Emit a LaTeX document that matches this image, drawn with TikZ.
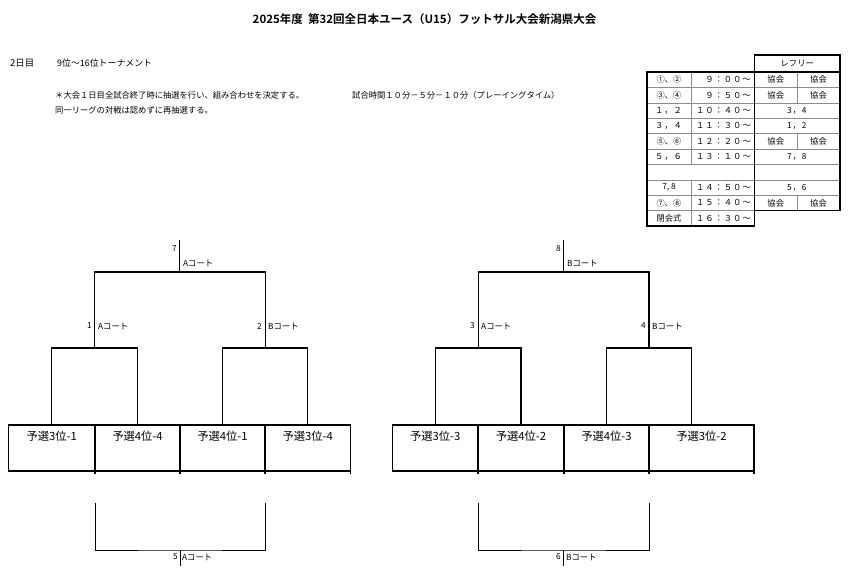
\documentclass[tikz,border=0pt]{standalone}
\usepackage{fontspec}
\setmainfont{Noto Sans CJK JP}[BoldFont={Noto Sans CJK JP Bold}]
\def\spaced#1{\spacedaux#1\relax}
\def\spacedaux#1{\ifx\relax#1\else#1\kern1pt\expandafter\spacedaux\fi}
\begin{document}
\begin{tikzpicture}[x=1pt,y=-1pt,
  txt/.style={inner sep=0pt, font=\fontsize{8.3}{10}\selectfont},
  tabtxt/.style={inner sep=0pt, font=\fontsize{8.3}{10}\selectfont},
  smalltxt/.style={inner sep=0pt, font=\fontsize{8.2}{9}\selectfont},
  boxlbl/.style={inner sep=0pt, font=\fontsize{11.3}{13}\selectfont},
  brk/.style={line width=1.1pt, black},
  cell/.style={draw, line width=1.6pt, minimum height=46pt, inner sep=0pt, outer sep=0pt, anchor=north west},
  tthick/.style={line width=1.6pt, line cap=rect},
  tthin/.style={line width=0.5pt, black!45},
  tick/.style={line width=1.3pt}]
\useasboundingbox[fill=white] (0,0) rectangle (849,568);

% ---------- header texts ----------
\node[inner sep=0pt, font=\fontsize{11.5}{13}\selectfont\bfseries] (title) at (424.5,19) {2025年度\ \ 第32回全日本ユース（U15）フットサル大会新潟県大会};
\node[txt, anchor=west, font=\fontsize{9.4}{11}\selectfont] (day) at (10,63) {2日目};
\node[txt, anchor=west, font=\fontsize{8.9}{10}\selectfont] (rank) at (57,63) {9位～16位トーナメント};
\node[txt, anchor=west] (note1) at (55,95) {＊大会１日目全試合終了時に抽選を行い、組み合わせを決定する。};
\node[txt, anchor=west] (note2) at (352,95) {試合時間１０分－５分－１０分（プレーイングタイム）};
\node[txt, anchor=west] (note3) at (55,110) {同一リーグの対戦は認めずに再抽選する。};

% ---------- schedule table ----------
\foreach \yy in {87.4,102.8,118.2,133.6,149,164.4,179.8,195.2}
  \draw[tthin] (647,\yy) -- (840,\yy);
\draw[tthin] (647,210.6) -- (754.5,210.6);
\draw[tthin] (691,72) -- (691,164.4);
\draw[tthin] (691,179.8) -- (691,226);
\draw[tthin] (797,72) -- (797,102.8);
\draw[tthin] (797,133.6) -- (797,149);
\draw[tthin] (797,195.2) -- (797,210.6);
\draw[tthick] (754.5,55) -- (840,55);
\draw[tthick] (647,72) -- (840,72);
\draw[tthick] (647,72) -- (647,226) -- (754.5,226);
\draw[tthick] (754.5,55) -- (754.5,226);
\draw[tthick] (840,55) -- (840,210.6) -- (754.5,210.6);

\node[tabtxt] (ref) at (797.25,63.5) {レフリー};

\node[smalltxt] (n1) at (669,79.7) {①、②};
\node[smalltxt] (n2) at (669,95.1) {③、④};
\node[tabtxt] (n3) at (669,110.5) {\spaced{１，２}};
\node[tabtxt] (n4) at (669,125.9) {\spaced{３，４}};
\node[smalltxt] (n5) at (669,141.3) {⑤、⑥};
\node[tabtxt] (n6) at (669,156.7) {\spaced{５，６}};
\node[tabtxt] (n8) at (669,187.5) {7, 8};
\node[smalltxt] (n9) at (669,202.9) {⑦、⑧};
\node[smalltxt] (n10) at (669,218.3) {閉会式};

\node[tabtxt, anchor=east] (h1) at (752,79.7) {\spaced{９：００～}};
\node[tabtxt, anchor=east] (h2) at (752,95.1) {\spaced{９：５０～}};
\node[tabtxt, anchor=east] (h3) at (752,110.5) {\spaced{１０：４０～}};
\node[tabtxt, anchor=east] (h4) at (752,125.9) {\spaced{１１：３０～}};
\node[tabtxt, anchor=east] (h5) at (752,141.3) {\spaced{１２：２０～}};
\node[tabtxt, anchor=east] (h6) at (752,156.7) {\spaced{１３：１０～}};
\node[tabtxt, anchor=east] (h8) at (752,187.5) {\spaced{１４：５０～}};
\node[tabtxt, anchor=east] (h9) at (752,202.9) {\spaced{１５：４０～}};
\node[tabtxt, anchor=east] (h10) at (752,218.3) {\spaced{１６：３０～}};

\node[tabtxt] (k1a) at (775.75,79.7) {協会};
\node[tabtxt] (k1b) at (818.5,79.7) {協会};
\node[tabtxt] (k2a) at (775.75,95.1) {協会};
\node[tabtxt] (k2b) at (818.5,95.1) {協会};
\node[tabtxt] (k3) at (797.25,110.5) {\spaced{3，4}};
\node[tabtxt] (k4) at (797.25,125.9) {\spaced{1，2}};
\node[tabtxt] (k5a) at (775.75,141.3) {協会};
\node[tabtxt] (k5b) at (818.5,141.3) {協会};
\node[tabtxt] (k6) at (797.25,156.7) {\spaced{7，8}};
\node[tabtxt] (k8) at (797.25,187.5) {\spaced{5，6}};
\node[tabtxt] (k9a) at (775.75,202.9) {協会};
\node[tabtxt] (k9b) at (818.5,202.9) {協会};

% ---------- team boxes ----------
\node[cell, minimum width=86.5pt] (c1) at (8.5,425) {};
\node[cell, minimum width=85pt] (c2) at (95,425) {};
\node[cell, minimum width=85pt] (c3) at (180,425) {};
\node[cell, minimum width=85.5pt] (c4) at (265,425) {};
\node[cell, minimum width=85.5pt] (c5) at (392.5,425) {};
\node[cell, minimum width=86pt] (c6) at (478,425) {};
\node[cell, minimum width=85pt] (c7) at (564,425) {};
\node[cell, minimum width=105pt] (c8) at (649,425) {};

\node[boxlbl] (l1) at ([yshift=-11pt]c1.north) {予選3位-1};
\node[boxlbl] (l2) at ([yshift=-11pt]c2.north) {予選4位-4};
\node[boxlbl] (l3) at ([yshift=-11pt]c3.north) {予選4位-1};
\node[boxlbl] (l4) at ([yshift=-11pt]c4.north) {予選3位-4};
\node[boxlbl] (l5) at ([yshift=-11pt]c5.north) {予選3位-3};
\node[boxlbl] (l6) at ([yshift=-11pt]c6.north) {予選4位-2};
\node[boxlbl] (l7) at ([yshift=-11pt]c7.north) {予選4位-3};
\node[boxlbl] (l8) at ([yshift=-11pt]c8.north) {予選3位-2};

\foreach \c in {c1,c2,c3,c4,c5,c6,c7,c8}
  \draw[tick] (\c.south east) -- ++(0,3);

% ---------- upper brackets ----------
\coordinate (t1) at (94.6,348);
\coordinate (t2) at (265.1,348);
\coordinate (s7) at (179.9,272);
\coordinate (e7) at (179.9,240);
\draw[brk] (c1.north) |- (t1) -| (c2.north);
\draw[brk] (c3.north) |- (t2) -| (c4.north);
\draw[brk] (t1) |- (s7) -| (t2);
\draw[brk] (s7) -- (e7);

\coordinate (c8top) at (691.5,425);
\coordinate (t3) at (478.1,348);
\coordinate (t4) at (649,348);
\coordinate (s8) at (563.6,272);
\coordinate (e8) at (563.6,240);
\draw[brk] (c5.north) |- (t3) -| (c6.north);
\draw[brk] (c7.north) |- (t4) -| (c8top);
\draw[brk] (t3) |- (s8) -| (t4);
\draw[brk] (s8) -- (e8);

% ---------- lower brackets ----------
\coordinate (u1) at (95,503);
\coordinate (u2) at (265,503);
\coordinate (b5) at (180,550);
\coordinate (e5) at (180,566);
\draw[brk, line width=0.9pt] (u1) |- (b5) -| (u2);
\draw[brk, line width=0.9pt] (b5) -- (e5);
\coordinate (u3) at (478,503);
\coordinate (u4) at (649,503);
\coordinate (b6) at (563.5,550);
\coordinate (e6) at (563.5,566);
\draw[brk, line width=0.9pt] (u3) |- (b6) -| (u4);
\draw[brk, line width=0.9pt] (b6) -- (e6);

% ---------- match labels ----------
\node[txt, anchor=east] (m7) at (177,249) {7};
\node[txt, anchor=west] (m7c) at (183,263) {Aコート};
\node[txt, anchor=east] (m1) at (92,326) {1};
\node[txt, anchor=west] (m1c) at (98,326) {Aコート};
\node[txt, anchor=east] (m2) at (262,326) {2};
\node[txt, anchor=west] (m2c) at (268,326) {Bコート};
\node[txt, anchor=east] (m8) at (561,249) {8};
\node[txt, anchor=west] (m8c) at (567,263) {Bコート};
\node[txt, anchor=east] (m3) at (475,326) {3};
\node[txt, anchor=west] (m3c) at (481,326) {Aコート};
\node[txt, anchor=east] (m4) at (646,326) {4};
\node[txt, anchor=west] (m4c) at (652,326) {Bコート};
\node[txt, anchor=east] (m5) at (178,557) {5};
\node[txt, anchor=west] (m5c) at (182,557) {Aコート};
\node[txt, anchor=east] (m6) at (561,557) {6};
\node[txt, anchor=west] (m6c) at (566,557) {Bコート};
\end{tikzpicture}
\end{document}
